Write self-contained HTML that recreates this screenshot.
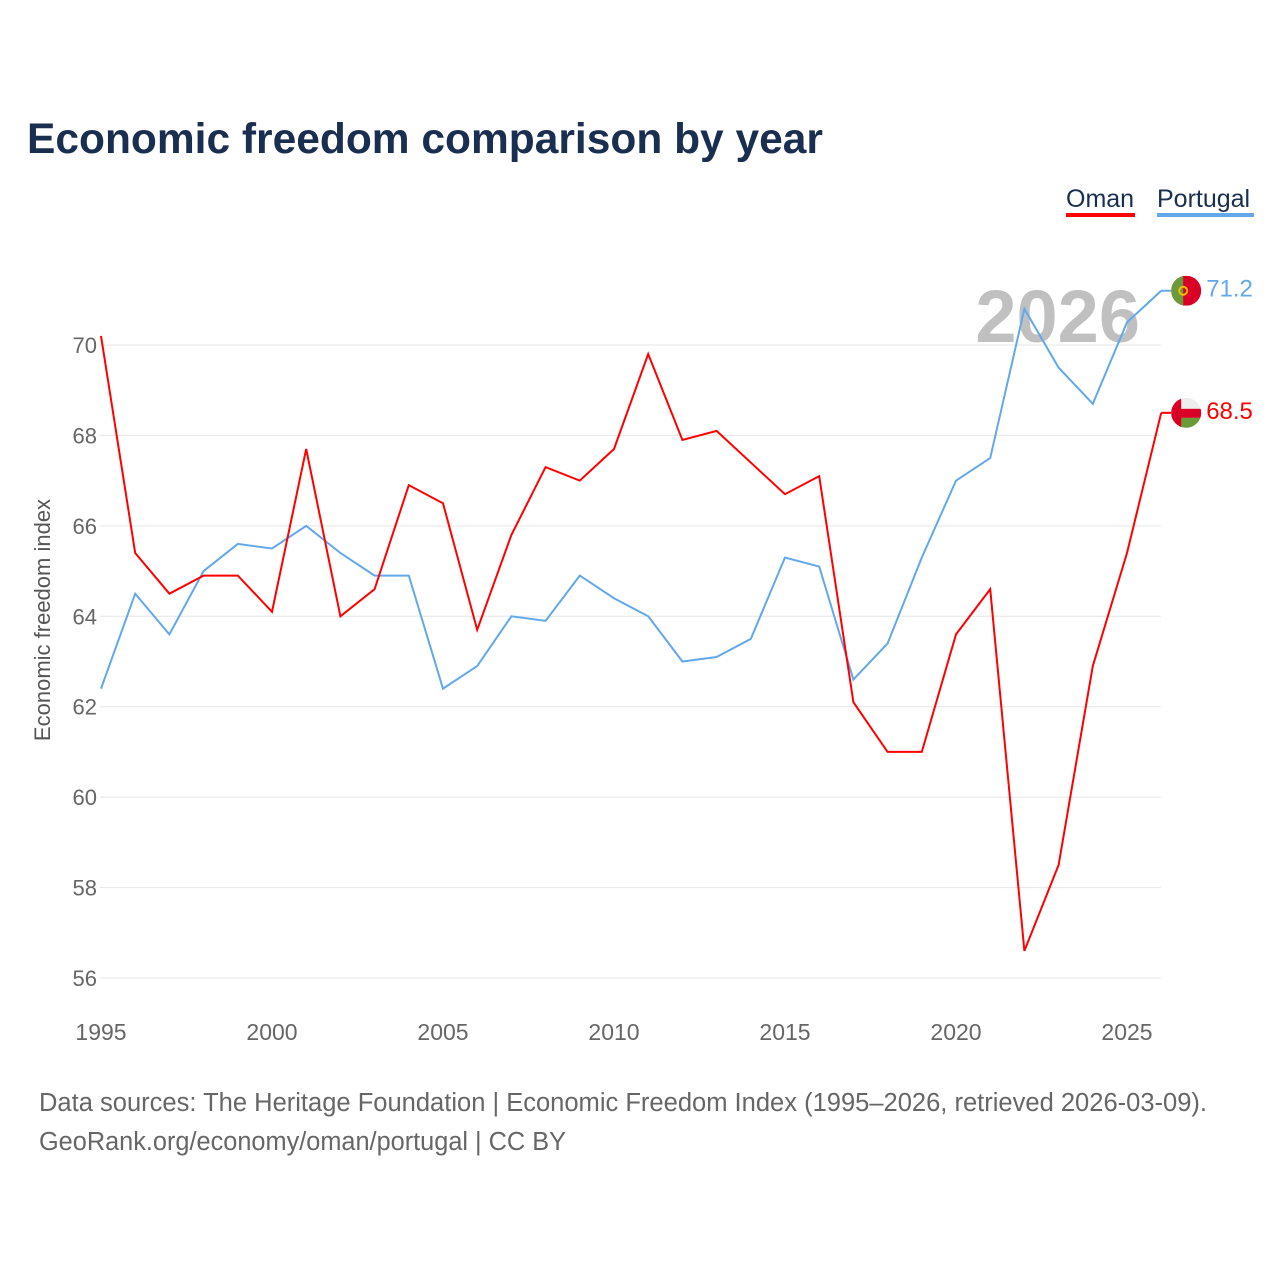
<!DOCTYPE html>
<html><head><meta charset="utf-8"><style>
body{margin:0;background:#fff;font-family:"Liberation Sans",sans-serif}
svg{display:block}
</style></head><body>
<svg width="1280" height="1280" id="c">
<text x="27" y="153" font-size="42.5" font-weight="bold" fill="#1a2e4f">Economic freedom comparison by year</text>
<g>
<text x="1066" y="207" font-size="25" fill="#1a2e4f">Oman</text>
<rect x="1066" y="213" width="69" height="4" fill="#f00"/>
<text x="1157" y="207" font-size="25" fill="#1a2e4f">Portugal</text>
<rect x="1157" y="213" width="97" height="4" fill="#62a8ea"/>
</g>
<text x="1140" y="342" font-size="74" font-weight="bold" fill="#c0c0c0" text-anchor="end">2026</text>
<text transform="translate(50,620) rotate(-90)" font-size="22" fill="#555" text-anchor="middle">Economic freedom index</text>
<g id="grid"></g><g id="lines"></g><g id="ends"></g>
<text x="39" y="1111" font-size="25.5" fill="#666" textLength="1168" lengthAdjust="spacingAndGlyphs">Data sources: The Heritage Foundation | Economic Freedom Index (1995–2026, retrieved 2026-03-09).</text>
<text x="39" y="1150" font-size="25.5" fill="#666" textLength="527" lengthAdjust="spacingAndGlyphs">GeoRank.org/economy/oman/portugal | CC BY</text>
</svg>
<script>
const years=[];for(let y=1995;y<=2026;y++)years.push(y);
const oman=[70.2,65.4,64.5,64.9,64.9,64.1,67.7,64.0,64.6,66.9,66.5,63.7,65.8,67.3,67.0,67.7,69.8,67.9,68.1,67.4,66.7,67.1,62.1,61.0,61.0,63.6,64.6,56.6,58.5,62.9,65.4,68.5];
const portugal=[62.4,64.5,63.6,65.0,65.6,65.5,66.0,65.4,64.9,64.9,62.4,62.9,64.0,63.9,64.9,64.4,64.0,63.0,63.1,63.5,65.3,65.1,62.6,63.4,65.3,67.0,67.5,70.8,69.5,68.7,70.5,71.2];
const yTicks=[56,58,60,62,64,66,68,70];
const xTicks=[1995,2000,2005,2010,2015,2020,2025];
const NS='http://www.w3.org/2000/svg';
const X=y=>101+(y-1995)*34.2, Y=v=>978-(v-56)*45.214;
function mk(t,a,p){const e=document.createElementNS(NS,t);for(const k in a)e.setAttribute(k,a[k]);p.appendChild(e);return e;}
const g=document.getElementById('grid');
yTicks.forEach(v=>{const l=mk('line',{x1:100,x2:1161,y1:Y(v),y2:Y(v),stroke:'#e6e6e6'},g);


const t=mk('text',{x:97,y:Y(v)+8,'font-size':22,fill:'#666','text-anchor':'end'},g);t.textContent=v;

});
xTicks.forEach(v=>{const t=mk('text',{x:X(v),y:1040,'font-size':23,fill:'#666','text-anchor':'middle'},g);t.textContent=v;

});
const L=document.getElementById('lines');
function line(d,c,n){const p=mk('polyline',{points:d.map((v,i)=>X(years[i])+','+Y(v)).join(' '),fill:'none',stroke:c,'stroke-width':2},L);

}
line(portugal,'#62a8ea','portugal-line');line(oman,'#f00','oman-line');
const E=document.getElementById('ends');
function end(d,c,n,flag){const v=d[d.length-1],x=X(2026),y=Y(v);
const gg=mk('g',{},E);


mk('line',{x1:x,x2:x+10,y1:y,y2:y,stroke:c,'stroke-width':2},gg);
flag(gg,x+25,y);
const t=mk('text',{x:x+45,y:y+6,'font-size':24,fill:c},gg);t.textContent=v.toFixed(1);}
end(portugal,'#62a8ea','portugal-end-label',(p,cx,cy)=>{
mk('clipPath',{id:'cp1'},p).appendChild(mk('circle',{cx,cy,r:15},p));
const gg=mk('g',{'clip-path':'url(#cp1)'},p);
mk('rect',{x:cx-15,y:cy-15,width:30,height:30,fill:'#da0025'},gg);
mk('rect',{x:cx-15,y:cy-15,width:12,height:30,fill:'#6a9a3a'},gg);
mk('circle',{cx:cx-3,cy,r:4,fill:'none',stroke:'#f0c000','stroke-width':2},gg);});
end(oman,'#f00','oman-end-label',(p,cx,cy)=>{
mk('clipPath',{id:'cp2'},p).appendChild(mk('circle',{cx,cy,r:15},p));
const gg=mk('g',{'clip-path':'url(#cp2)'},p);
mk('rect',{x:cx-15,y:cy-15,width:30,height:30,fill:'#eee'},gg);
mk('rect',{x:cx-15,y:cy+5,width:30,height:10,fill:'#6a9a3a'},gg);
mk('rect',{x:cx-15,y:cy-4,width:30,height:9,fill:'#da0025'},gg);
mk('rect',{x:cx-15,y:cy-15,width:10,height:30,fill:'#da0025'},gg);});
</script>
</body></html>
